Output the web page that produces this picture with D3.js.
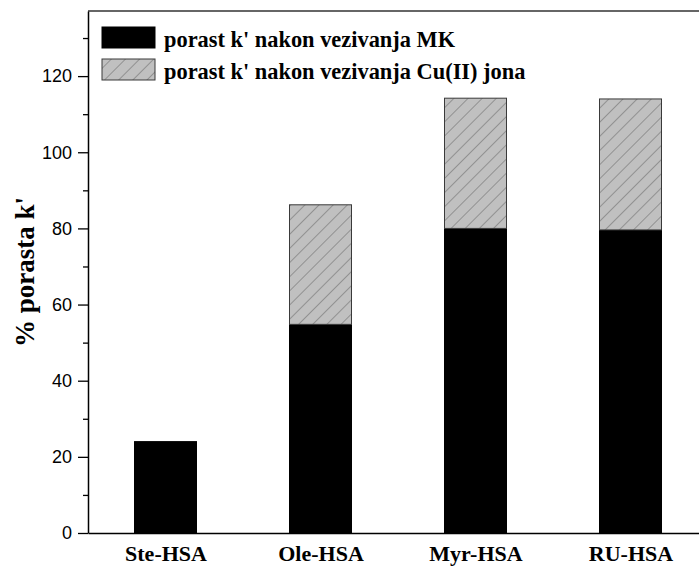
<!DOCTYPE html>
<html>
<head>
<meta charset="utf-8">
<script src="https://cdn.jsdelivr.net/npm/d3@7"></script>
<style>
  html, body { margin: 0; padding: 0; background: #fff; }
  svg { display: block; }
  .serif { font-family: "Liberation Serif", "Times New Roman", Times, "DejaVu Serif", serif; font-weight: bold; }
  .sans { font-family: "Liberation Sans", Arial, Helvetica, sans-serif; }
</style>
</head>
<body>
<svg id="chart" width="699" height="567"></svg>
<script>
// ---- data ----
const categories = ["Ste-HSA", "Ole-HSA", "Myr-HSA", "RU-HSA"];
const mkValues = [24.0, 54.8, 80.0, 79.6];          // porast k' nakon vezivanja MK
const cuValues = [0.0, 31.4, 34.2, 34.4];           // porast k' nakon vezivanja Cu(II) jona (stacked)
const yMajorTicks = [0, 20, 40, 60, 80, 100, 120];
const yMinorTicks = [10, 30, 50, 70, 90, 110, 130];
const legendLabels = ["porast k' nakon vezivanja MK", "porast k' nakon vezivanja Cu(II) jona"];
const yTitle = "% porasta k'";

(function () {
// ---- layout ----
const svg = d3.select("#chart");
const mLeft = 88, mTop = 11, mBottom = 533, mRight = 708;
const x = d3.scaleLinear().domain([0.5, 4.5]).range([mLeft, mRight]);
const y = d3.scaleLinear().domain([0, 137.1]).range([mBottom, mTop]);
const halfW = 0.2;

// hatch pattern
const defs = svg.append("defs");
const pat = defs.append("pattern")
  .attr("id", "hatch").attr("patternUnits", "userSpaceOnUse")
  .attr("width", 10).attr("height", 10)
  .attr("patternTransform", "rotate(45)");
pat.append("rect").attr("width", 10).attr("height", 10).attr("fill", "#c0c0c0");
pat.append("line").attr("x1", 0).attr("y1", 0).attr("x2", 0).attr("y2", 10)
  .attr("stroke", "#6a6a6a").attr("stroke-width", 1.1);

const data = categories.map((c, i) => ({ c, i: i + 1, mk: mkValues[i], cu: cuValues[i] }));

// bars: MK (black)
svg.append("g").selectAll("rect").data(data).join("rect")
  .attr("x", d => x(d.i - halfW))
  .attr("width", d => x(d.i + halfW) - x(d.i - halfW))
  .attr("y", d => y(d.mk))
  .attr("height", d => y(0) - y(d.mk))
  .attr("fill", "#000").attr("stroke", "#000").attr("stroke-width", 1);

// bars: Cu (hatched, stacked)
svg.append("g").selectAll("rect").data(data.filter(d => d.cu > 0)).join("rect")
  .attr("x", d => x(d.i - halfW))
  .attr("width", d => x(d.i + halfW) - x(d.i - halfW))
  .attr("y", d => y(d.mk + d.cu))
  .attr("height", d => y(d.mk) - y(d.mk + d.cu))
  .attr("fill", "url(#hatch)").attr("stroke", "#3a3a3a").attr("stroke-width", 1);

// frame top line
svg.append("line").attr("x1", mLeft).attr("x2", 699).attr("y1", mTop).attr("y2", mTop)
  .attr("stroke", "#333").attr("stroke-width", 1.5);

// x axis (no ticks)
const xAxis = svg.append("g").attr("transform", `translate(0,${mBottom})`)
  .call(d3.axisBottom(x).tickValues(data.map(d => d.i)).tickSize(0).tickPadding(12)
        .tickFormat((d, i) => categories[i]));
xAxis.attr("font-family", null).attr("font-size", null);
xAxis.select(".domain").attr("stroke", "#000").attr("stroke-width", 1.5);
xAxis.selectAll("text")
  .attr("class", "serif")
  .attr("font-size", 22).attr("fill", "#000")
  .attr("dy", "0.71em");

// y axis major
const yAxis = svg.append("g").attr("transform", `translate(${mLeft},0)`)
  .call(d3.axisLeft(y).tickValues(yMajorTicks).tickSize(10).tickPadding(6).tickSizeOuter(0));
yAxis.attr("font-family", null).attr("font-size", null);
yAxis.select(".domain").attr("stroke", "#000").attr("stroke-width", 1.5);
yAxis.selectAll(".tick line").attr("stroke", "#000").attr("stroke-width", 1.3);
yAxis.selectAll("text")
  .attr("class", "sans")
  .attr("font-size", 18).attr("fill", "#000");

// y axis minor
const yMinor = svg.append("g").attr("transform", `translate(${mLeft},0)`)
  .call(d3.axisLeft(y).tickValues(yMinorTicks).tickSize(5).tickFormat(""));
yMinor.select(".domain").remove();
yMinor.selectAll(".tick line").attr("stroke", "#000").attr("stroke-width", 1.3);

// y title
svg.append("text")
  .attr("class", "serif")
  .attr("transform", `translate(34,${(mTop + mBottom) / 2}) rotate(-90)`)
  .attr("text-anchor", "middle")
  .attr("font-size", 27).attr("fill", "#000")
  .text(yTitle);

// legend
const legend = svg.append("g");
const lg = [{ fill: "#000", stroke: "#000", y0: 27 }, { fill: "url(#hatch)", stroke: "#3a3a3a", y0: 59 }];
lg.forEach((l, i) => {
  legend.append("rect").attr("x", 102).attr("y", l.y0).attr("width", 53).attr("height", 21)
    .attr("fill", l.fill).attr("stroke", l.stroke).attr("stroke-width", 1);
  legend.append("text").attr("class", "serif").attr("x", 164).attr("y", l.y0 + 20)
    .attr("font-size", 22.4).attr("fill", "#000")
    .text(legendLabels[i]);
});
})();
</script>
</body>
</html>
